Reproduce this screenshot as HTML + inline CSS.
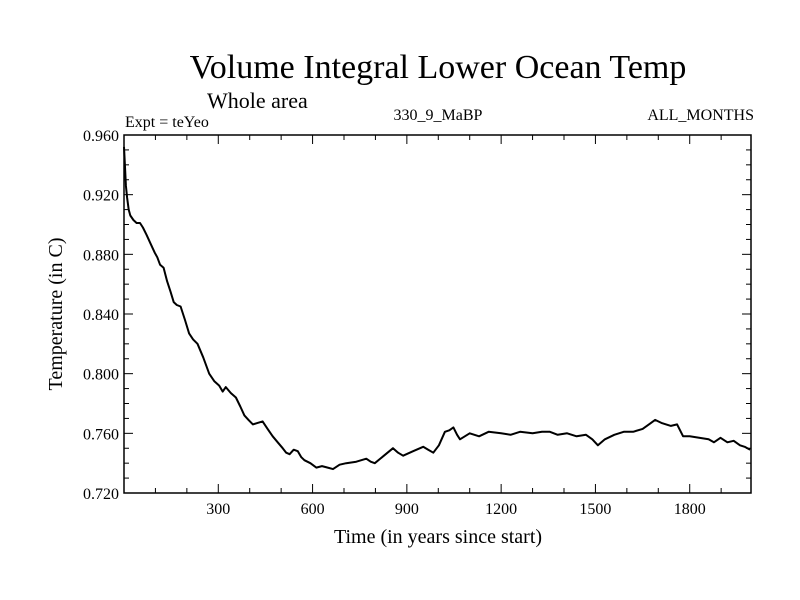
<!DOCTYPE html>
<html><head><meta charset="utf-8"><style>
html,body{margin:0;padding:0;background:#fff}
svg{display:block;font-family:"Liberation Serif",serif}
</style></head><body>
<svg id="chart" width="800" height="600">
<text x="438" y="78" font-size="34" text-anchor="middle">Volume Integral Lower Ocean Temp</text>
<text x="207" y="108" font-size="22">Whole area</text>
<text x="125" y="127" font-size="16">Expt = teYeo</text>
<text x="438" y="120" font-size="16" text-anchor="middle">330_9_MaBP</text>
<text x="754" y="120" font-size="16" text-anchor="end">ALL_MONTHS</text>
<g id="axes"></g>
<text x="438" y="543" font-size="20" text-anchor="middle">Time (in years since start)</text>
<text transform="translate(62,314) rotate(-90)" font-size="20" text-anchor="middle">Temperature (in C)</text>
</svg>
<script>
const years=[0,3,6,10,15,20,30,40,51,60,72,85,98,106,115,126,137,148,158,168,180,194,207,220,234,252,271,287,303,314,324,340,356,370,383,396,410,425,441,457,473,489,505,516,527,540,553,564,574,593,612,630,648,665,686,707,739,771,785,798,827,856,872,888,920,952,968,984,1002,1021,1035,1048,1060,1069,1100,1130,1160,1200,1230,1260,1300,1330,1355,1380,1410,1440,1470,1490,1508,1530,1560,1590,1620,1650,1670,1690,1710,1740,1760,1779,1800,1830,1860,1877,1898,1920,1940,1960,1975,1992];
const temps=[0.952,0.940,0.926,0.918,0.910,0.906,0.903,0.901,0.901,0.898,0.893,0.887,0.881,0.878,0.873,0.871,0.862,0.855,0.848,0.846,0.845,0.836,0.827,0.823,0.820,0.811,0.800,0.795,0.792,0.788,0.791,0.787,0.784,0.778,0.772,0.769,0.766,0.767,0.768,0.763,0.758,0.754,0.750,0.747,0.746,0.749,0.748,0.744,0.742,0.740,0.737,0.738,0.737,0.736,0.739,0.740,0.741,0.743,0.741,0.740,0.745,0.750,0.747,0.745,0.748,0.751,0.749,0.747,0.752,0.761,0.762,0.764,0.759,0.756,0.760,0.758,0.761,0.760,0.759,0.761,0.760,0.761,0.761,0.759,0.760,0.758,0.759,0.756,0.752,0.756,0.759,0.761,0.761,0.763,0.766,0.769,0.767,0.765,0.766,0.758,0.758,0.757,0.756,0.754,0.757,0.754,0.755,0.752,0.751,0.749];
const xTicks=[300,600,900,1200,1500,1800];
const yTicks=[0.72,0.76,0.80,0.84,0.88,0.92,0.96];
const L=124,R=751,T=135,B=493,X0=0,X1=1995,Y0=0.72,Y1=0.96;
const sx=v=>L+(v-X0)/(X1-X0)*(R-L);
const sy=v=>B-(v-Y0)/(Y1-Y0)*(B-T);
const NS='http://www.w3.org/2000/svg';
const g=document.getElementById('axes');
function mk(t,a){const e=document.createElementNS(NS,t);for(const k in a)e.setAttribute(k,a[k]);g.appendChild(e);return e;}
const frame=mk('rect',{x:L,y:T,width:R-L,height:B-T,fill:'none',stroke:'#000','stroke-width':1.5});


for(let v=100;v<X1;v+=100){const maj=v%300===0;const len=maj?9:5;
 mk('line',{x1:sx(v),x2:sx(v),y1:B,y2:B-len,stroke:'#000'});
 mk('line',{x1:sx(v),x2:sx(v),y1:T,y2:T+len,stroke:'#000'});}
for(let i=0;i<=24;i++){const v=Y0+i*0.01;const maj=i%4===0;const len=maj?9:5;
 mk('line',{x1:L,x2:L+len,y1:sy(v),y2:sy(v),stroke:'#000'});
 mk('line',{x1:R,x2:R-len,y1:sy(v),y2:sy(v),stroke:'#000'});}
xTicks.forEach(v=>{const t=mk('text',{x:sx(v),y:B+21,'font-size':16,'text-anchor':'middle'});t.textContent=v;
 
 });
yTicks.forEach(v=>{const t=mk('text',{x:L-5,y:sy(v)+6,'font-size':16,'text-anchor':'end'});t.textContent=v.toFixed(3);
 
 });
const d=years.map((y,i)=>(i?'L':'M')+sx(y).toFixed(1)+','+sy(temps[i]).toFixed(1)).join('');
const p=mk('path',{d:d,fill:'none',stroke:'#000','stroke-width':2,'stroke-linejoin':'round'});


</script>
</body></html>
